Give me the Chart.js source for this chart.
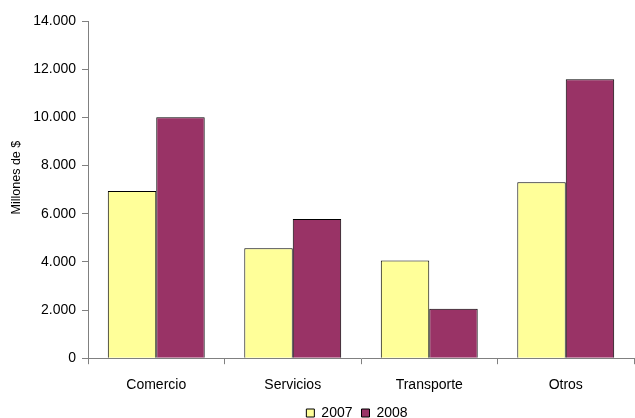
<!DOCTYPE html>
<html><head><meta charset="utf-8">
<script src="https://cdn.jsdelivr.net/npm/chart.js@4"></script>
<style>html,body{margin:0;padding:0;background:#fff}#w{width:635px;height:418px}</style>
</head><body><div id="w"><canvas id="c"></canvas></div>
<script>
const categories = ["Comercio", "Servicios", "Transporte", "Otros"];
const series2007 = [6940, 4570, 4060, 7310];
const series2008 = [10000, 5780, 2050, 11580];
const seriesNames = ["2007", "2008"];
const yTicks = [0, 2000, 4000, 6000, 8000, 10000, 12000, 14000];
const yTitle = "Millones de $";

function fmt(v){ return v.toString().replace(/\B(?=(\d{3})+(?!\d))/g, "."); }

Chart.defaults.font.family = "'Liberation Sans', Arial, sans-serif";
Chart.defaults.font.size = 14;
Chart.defaults.color = "#000";

const legendShift = {
  id: "legendShift",
  afterLayout(chart) {
    const l = chart.legend;
    if (!l) return;
    const target = (chart.chartArea.left + chart.chartArea.right) / 2 - 4;
    const d = target - (l.left + l.right) / 2;
    l.left += d; l.right += d;
  }
};

const yTitlePlugin = {
  id: "yTitlePlugin",
  afterDraw(chart) {
    const ctx = chart.ctx;
    const a = chart.chartArea;
    ctx.save();
    ctx.translate(17, (a.top + a.bottom) / 2 - 12);
    ctx.rotate(-Math.PI / 2);
    ctx.font = "12.5px 'Liberation Sans', Arial, sans-serif";
    ctx.fillStyle = "#000";
    ctx.textAlign = "center";
    ctx.textBaseline = "middle";
    ctx.fillText(yTitle, 0, 0);
    ctx.restore();
  }
};

new Chart(document.getElementById("c"), {
  type: "bar",
  data: {
    labels: categories,
    datasets: [
      { label: seriesNames[0], data: series2007, backgroundColor: "#FFFF99", borderColor: "#000", borderWidth: 1, categoryPercentage: 0.71, barPercentage: 1.0 },
      { label: seriesNames[1], data: series2008, backgroundColor: "#993366", borderColor: "#000", borderWidth: 1, categoryPercentage: 0.71, barPercentage: 1.0 }
    ]
  },
  plugins: [legendShift, yTitlePlugin],
  options: {
    responsive: true, maintainAspectRatio: false, animation: false,
    layout: { padding: { top: 21, right: 1, left: 0, bottom: -12 } },
    plugins: {
      legend: { position: "bottom", labels: { boxWidth: 8, boxHeight: 8, padding: 9, color: "#000", font: { size: 14 } } },
      tooltip: { enabled: false }
    },
    scales: {
      x: {
        offset: true,
        afterFit: (s) => { s.height -= 10; },
        grid: { display: true, drawOnChartArea: false, offset: true, tickLength: 6, color: "#808080" },
        border: { display: true, color: "#808080", width: 1 },
        ticks: { padding: 13, color: "#000" }
      },
      y: {
        min: 0, max: 14000,
        afterBuildTicks: (s) => { s.ticks = yTicks.map(v => ({ value: v })); },
        afterFit: (s) => { s.width = 88; },
        grid: { display: true, drawOnChartArea: false, tickLength: 6, color: "#808080" },
        border: { display: true, color: "#808080", width: 1 },
        ticks: { callback: (v) => fmt(v), padding: 6, color: "#000" },
        title: { display: false, text: yTitle }
      }
    }
  }
});
</script>
</body></html>
